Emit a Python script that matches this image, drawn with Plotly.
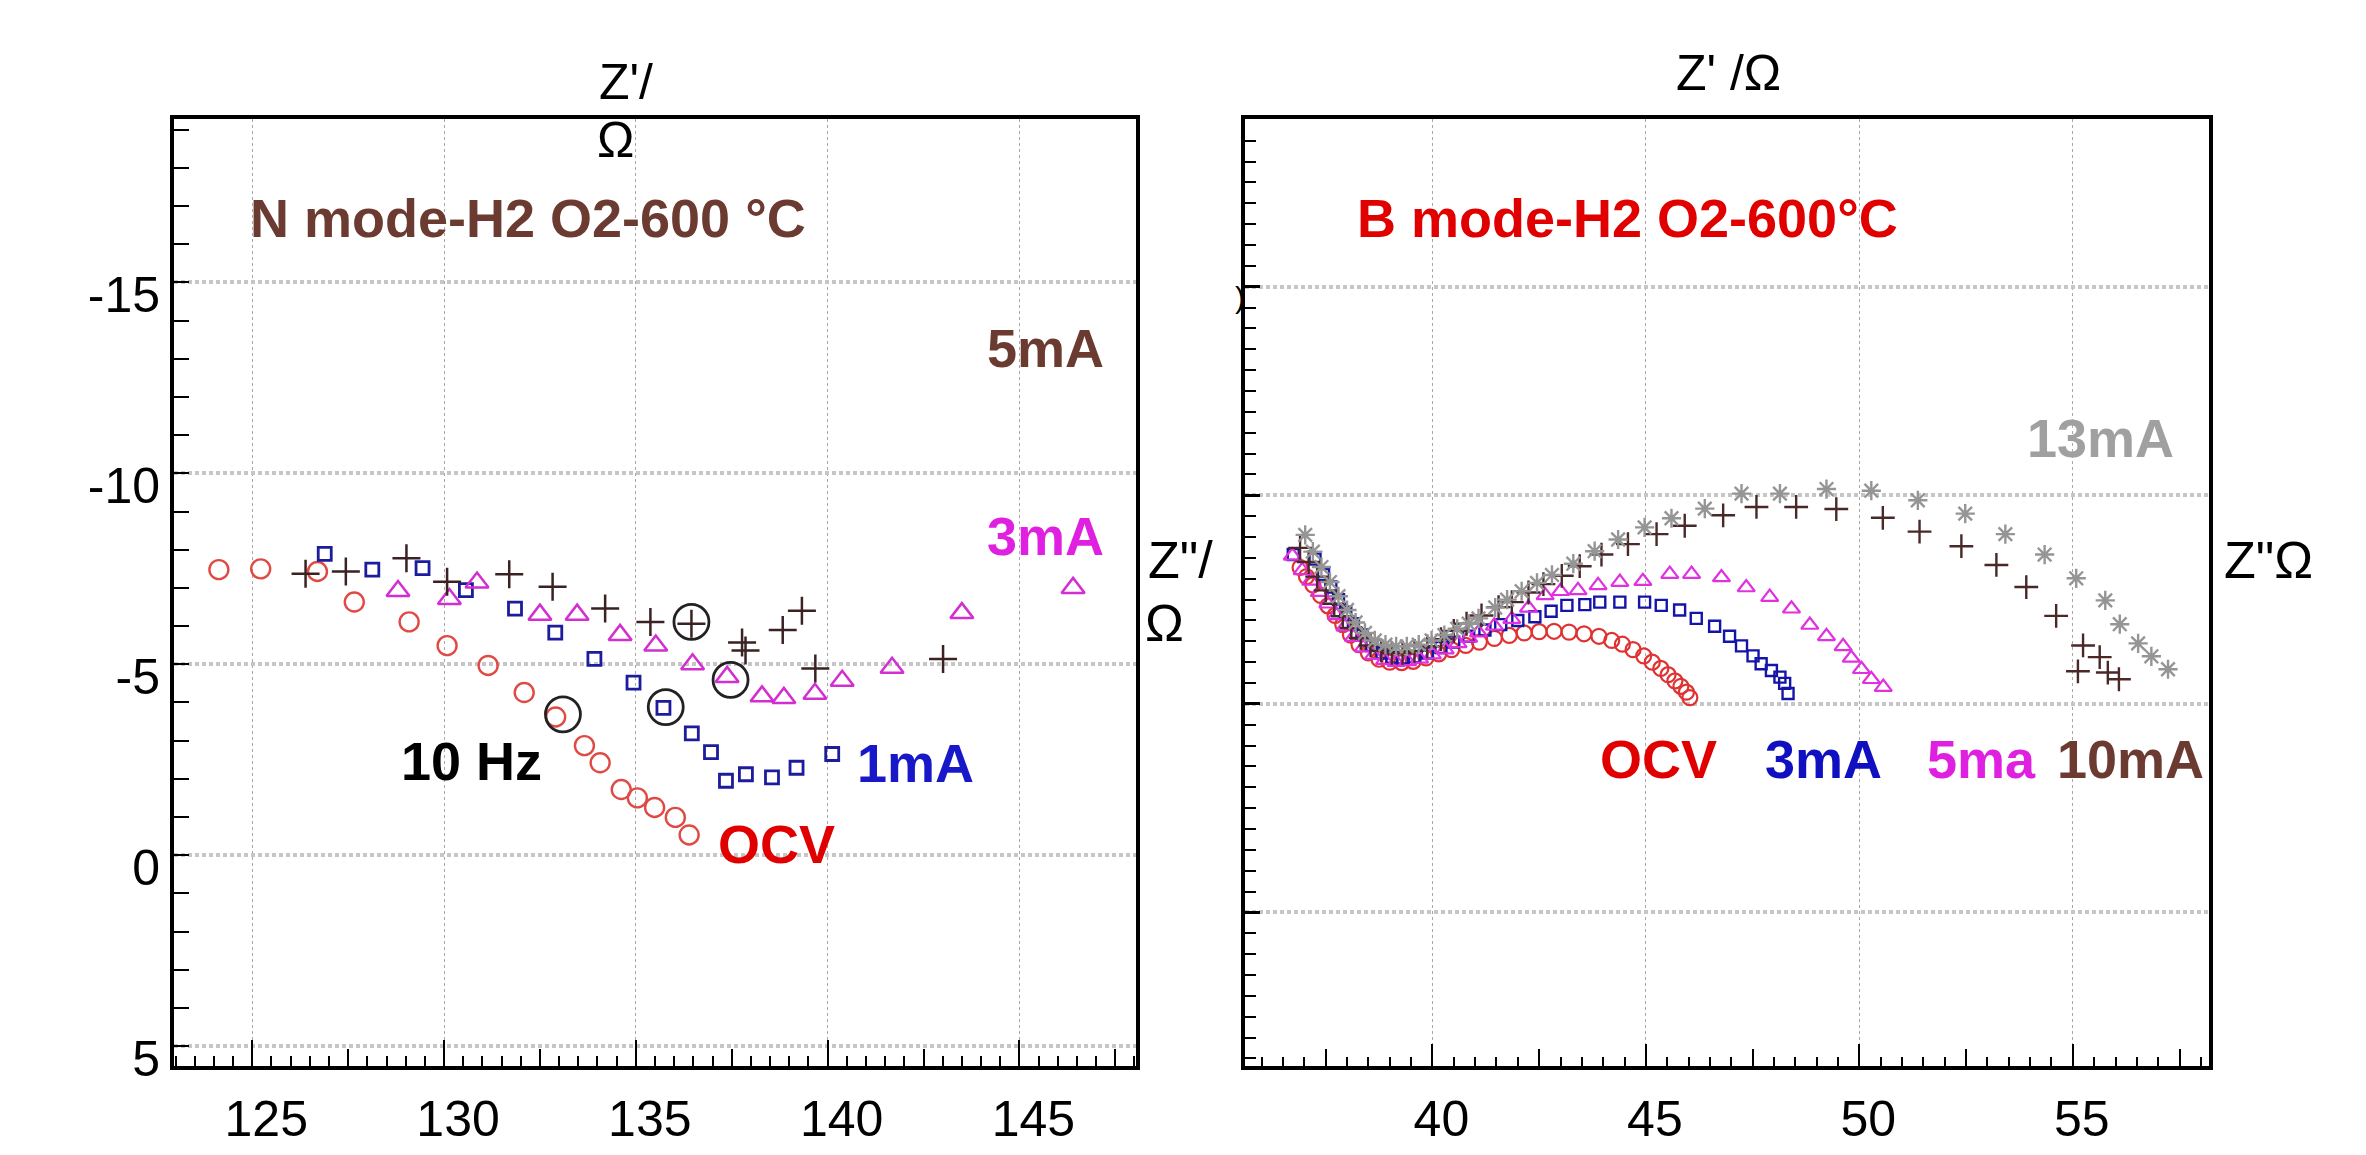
import plotly.graph_objects as go

W, H = 2366, 1155

# ---------------- Left panel: N mode-H2 O2-600 °C ----------------
n_ocv_x = [124.13, 125.22, 126.70, 127.66, 129.09, 130.08, 131.15, 132.09, 132.91, 133.66, 134.07, 134.62, 135.04, 135.49, 136.03, 136.39]
n_ocv_y = [-7.48, -7.50, -7.43, -6.63, -6.11, -5.49, -4.97, -4.26, -3.62, -2.87, -2.42, -1.72, -1.50, -1.25, -0.99, -0.53]

n_1ma_x = [126.89, 128.13, 129.44, 130.57, 131.85, 132.90, 133.92, 134.94, 135.72, 136.46, 136.96, 137.35, 137.87, 138.55, 139.19, 140.12]
n_1ma_y = [-7.89, -7.48, -7.52, -6.94, -6.46, -5.83, -5.14, -4.52, -3.86, -3.19, -2.70, -1.95, -2.12, -2.04, -2.29, -2.65]

n_3ma_x = [128.80, 130.14, 130.86, 132.50, 133.47, 134.59, 135.52, 136.48, 137.38, 138.29, 138.86, 139.67, 140.38, 141.68, 143.50, 146.40]
n_3ma_y = [-6.92, -6.71, -7.14, -6.30, -6.30, -5.77, -5.49, -5.00, -4.67, -4.16, -4.12, -4.23, -4.57, -4.91, -6.34, -7.00]

n_5ma_x = [126.39, 127.44, 129.02, 130.08, 131.70, 132.83, 134.20, 135.38, 136.45, 137.77, 137.86, 138.83, 139.33, 139.68, 143.01]
n_5ma_y = [-7.37, -7.43, -7.78, -7.16, -7.36, -7.03, -6.46, -6.11, -6.06, -5.57, -5.36, -5.90, -6.40, -4.89, -5.14]

hz10_x = [133.10, 135.78, 136.45, 137.47]
hz10_y = [-3.69, -3.88, -6.11, -4.59]

left_xticks = [125, 130, 135, 140, 145]
left_xtext = ["125", "130", "135", "140", "145"]
left_xmid = [122.5, 127.5, 132.5, 137.5, 142.5, 147.5]
left_yticks = [-15, -10, -5, 0, 5]
left_ytext = ["-15", "-10", "-5", "0", "5"]

# ---------------- Right panel: B mode-H2 O2-600°C ----------------
b_ocv_x = [36.90, 37.05, 37.20, 37.38, 37.55, 37.72, 37.90, 38.08, 38.28, 38.50, 38.75, 39.00, 39.28, 39.55, 39.85, 40.15, 40.45, 40.78, 41.10, 41.45, 41.80, 42.15, 42.50, 42.85, 43.20, 43.55, 43.90, 44.20, 44.45, 44.70, 44.95, 45.15, 45.35, 45.52, 45.68, 45.82, 45.95, 46.03]
b_ocv_y = [-8.27, -8.05, -7.85, -7.60, -7.35, -7.12, -6.90, -6.65, -6.42, -6.22, -6.07, -6.00, -5.99, -6.02, -6.10, -6.20, -6.30, -6.40, -6.48, -6.57, -6.64, -6.70, -6.73, -6.74, -6.72, -6.68, -6.62, -6.52, -6.43, -6.30, -6.15, -6.00, -5.85, -5.70, -5.55, -5.42, -5.28, -5.15]

b_3ma_x = [36.74, 37.25, 37.45, 37.62, 37.80, 37.97, 38.15, 38.35, 38.58, 38.82, 39.05, 39.30, 39.58, 39.88, 40.20, 40.50, 40.85, 41.23, 41.60, 42.00, 42.40, 42.78, 43.15, 43.57, 43.92, 44.39, 44.97, 45.36, 45.79, 46.18, 46.61, 46.96, 47.24, 47.51, 47.70, 47.94, 48.14, 48.25, 48.33]
b_3ma_y = [-8.58, -8.47, -8.10, -7.80, -7.50, -7.20, -6.92, -6.65, -6.40, -6.22, -6.12, -6.10, -6.13, -6.22, -6.35, -6.48, -6.62, -6.77, -6.90, -7.00, -7.09, -7.22, -7.36, -7.38, -7.44, -7.44, -7.44, -7.36, -7.25, -7.05, -6.86, -6.62, -6.39, -6.15, -5.96, -5.80, -5.64, -5.49, -5.25]

b_5ma_x = [36.72, 36.95, 37.15, 37.35, 37.55, 37.75, 37.95, 38.15, 38.38, 38.62, 38.88, 39.15, 39.42, 39.70, 40.00, 40.30, 40.60, 40.85, 41.08, 41.45, 41.86, 42.25, 42.64, 43.00, 43.41, 43.88, 44.39, 44.93, 45.56, 46.07, 46.77, 47.35, 47.90, 48.41, 48.84, 49.23, 49.62, 49.81, 50.05, 50.28, 50.56]
b_5ma_y = [-8.55, -8.20, -7.95, -7.68, -7.40, -7.12, -6.85, -6.60, -6.35, -6.17, -6.05, -6.00, -6.02, -6.08, -6.18, -6.30, -6.45, -6.58, -6.71, -6.87, -7.03, -7.30, -7.60, -7.70, -7.72, -7.84, -7.92, -7.94, -8.11, -8.11, -8.03, -7.79, -7.56, -7.28, -6.89, -6.62, -6.38, -6.10, -5.83, -5.59, -5.40]

b_10ma_x = [36.90, 37.10, 37.30, 37.50, 37.70, 37.90, 38.10, 38.32, 38.55, 38.80, 39.05, 39.30, 39.58, 39.88, 40.20, 40.50, 40.80, 41.15, 41.55, 41.86, 42.25, 42.60, 43.03, 43.45, 43.96, 44.58, 45.25, 45.91, 46.81, 47.59, 48.52, 49.46, 50.55, 51.41, 52.39, 53.21, 53.91, 54.61, 55.24, 55.63, 55.12, 55.82, 56.08]
b_10ma_y = [-8.74, -8.40, -8.05, -7.72, -7.40, -7.10, -6.82, -6.58, -6.40, -6.28, -6.22, -6.22, -6.27, -6.38, -6.55, -6.75, -6.92, -7.12, -7.32, -7.44, -7.67, -7.87, -8.07, -8.30, -8.58, -8.83, -9.07, -9.27, -9.52, -9.72, -9.72, -9.67, -9.46, -9.13, -8.78, -8.33, -7.80, -7.11, -6.40, -6.12, -5.78, -5.75, -5.59]

b_13ma_x = [37.02, 37.20, 37.40, 37.60, 37.80, 38.00, 38.20, 38.42, 38.65, 38.90, 39.15, 39.40, 39.68, 39.98, 40.28, 40.58, 40.85, 41.08, 41.47, 41.75, 42.09, 42.45, 42.80, 43.30, 43.80, 44.35, 44.97, 45.60, 46.38, 47.24, 48.14, 49.23, 50.28, 51.37, 52.48, 53.42, 54.34, 55.08, 55.76, 56.10, 56.53, 56.84, 57.23]
b_13ma_y = [-9.05, -8.65, -8.28, -7.92, -7.58, -7.25, -6.95, -6.70, -6.52, -6.42, -6.38, -6.38, -6.42, -6.52, -6.65, -6.80, -6.92, -7.05, -7.31, -7.50, -7.70, -7.90, -8.09, -8.36, -8.66, -8.94, -9.23, -9.45, -9.68, -10.04, -10.04, -10.15, -10.11, -9.88, -9.56, -9.07, -8.58, -8.01, -7.48, -6.91, -6.45, -6.14, -5.83]

right_xticks = [40, 45, 50, 55]
right_xtext = ["40", "45", "50", "55"]
right_xmid = [37.5, 42.5, 47.5, 52.5, 57.5]

FONT = "Liberation Sans, Arial, sans-serif"

fig = go.Figure()


def add(x, y, xa, ya, symbol, size, color, lw):
    fig.add_trace(go.Scatter(
        x=x, y=y, xaxis=xa, yaxis=ya, mode="markers",
        marker=dict(symbol=symbol, size=size, color=color, line=dict(color=color, width=lw)),
        showlegend=False, hoverinfo="skip"))


# left panel
add(n_ocv_x, n_ocv_y, "x", "y", "circle-open", 19, "#e04a44", 2.4)
add(n_1ma_x, n_1ma_y, "x", "y", "square-open", 13, "#1c1c9c", 2.8)
add(n_3ma_x, n_3ma_y, "x", "y", "triangle-up-open", 20, "#d22ed2", 2.5)
add(n_5ma_x, n_5ma_y, "x", "y", "cross-thin-open", 20, "#3a2222", 2.5)
add(hz10_x, hz10_y, "x", "y", "circle-open", 35, "#222222", 2.8)

# right panel
add(b_ocv_x, b_ocv_y, "x2", "y2", "circle-open", 15, "#e03232", 2.2)
add(b_3ma_x, b_3ma_y, "x2", "y2", "square-open", 11, "#1414a8", 2.4)
add(b_5ma_x, b_5ma_y, "x2", "y2", "triangle-up-open", 15, "#e030e0", 2.2)
add(b_10ma_x, b_10ma_y, "x2", "y2", "cross-thin-open", 17, "#4a2828", 2.4)
add(b_13ma_x, b_13ma_y, "x2", "y2", "asterisk-open", 16, "#959595", 2.4)

# empty carriers for the overlay axes that draw the medium (2.5-step) ticks
fig.add_trace(go.Scatter(x=[None], y=[None], xaxis="x3", yaxis="y", mode="markers",
                         showlegend=False, hoverinfo="skip"))
fig.add_trace(go.Scatter(x=[None], y=[None], xaxis="x4", yaxis="y2", mode="markers",
                         showlegend=False, hoverinfo="skip"))

ydom = [1 - 1077 / H, 1 - 113 / H]
ldom = [166 / W, 1128 / W]
rdom = [1237 / W, 2201 / W]
lrange = [122.96, 148.04]
rrange = [35.61, 58.19]

common_axis = dict(
    showline=True, linewidth=4, linecolor="black", mirror=True,
    zeroline=False, ticks="inside", tickcolor="black",
    tickfont=dict(family=FONT, size=50, color="black"),
)

mid_axis = dict(
    showline=False, showgrid=False, zeroline=False, ticks="inside",
    ticklen=17, tickwidth=2, tickcolor="black", showticklabels=False,
)

fig.update_layout(
    width=W, height=H, autosize=False,
    margin=dict(l=0, r=0, t=0, b=0),
    paper_bgcolor="white", plot_bgcolor="white",
    xaxis=dict(
        common_axis, domain=ldom, anchor="y",
        range=lrange, tickvals=left_xticks, ticktext=left_xtext,
        ticklen=26, tickwidth=2,
        showgrid=True, gridcolor="#a8a8a8", gridwidth=1.2, griddash="dot",
        minor=dict(dtick=0.5, tick0=125, ticks="inside", ticklen=10, tickwidth=1.5, tickcolor="black", showgrid=False),
        ticklabelshift=14, ticklabelstandoff=6,
    ),
    xaxis3=dict(mid_axis, overlaying="x", anchor="y", range=lrange, tickvals=left_xmid, side="bottom"),
    yaxis=dict(
        common_axis, domain=ydom, anchor="x",
        range=[5.53, -19.28], tickvals=left_yticks, ticktext=left_ytext,
        ticklen=15, tickwidth=2,
        showgrid=True, gridcolor="#c6c6c6", gridwidth=3.5, griddash="dot",
        minor=dict(dtick=1, tick0=0, ticks="inside", ticklen=15, tickwidth=2, tickcolor="black", showgrid=False),
        tickfont=dict(family=FONT, size=50, color="black"),
        ticklabelshift=-12, ticklabelstandoff=0,
    ),
    xaxis2=dict(
        common_axis, domain=rdom, anchor="y2",
        range=rrange, tickvals=right_xticks, ticktext=right_xtext,
        ticklen=22, tickwidth=2,
        showgrid=True, gridcolor="#a8a8a8", gridwidth=1.2, griddash="dot",
        minor=dict(dtick=0.5, tick0=40, ticks="inside", ticklen=9, tickwidth=1.5, tickcolor="black", showgrid=False),
        ticklabelshift=9, ticklabelstandoff=6,
    ),
    xaxis4=dict(mid_axis, overlaying="x2", anchor="y2", range=rrange, tickvals=right_xmid, side="bottom"),
    yaxis2=dict(
        common_axis, domain=ydom, anchor="x2",
        range=[3.69, -19.02], dtick=5, tick0=0, showticklabels=False,
        ticklen=15, tickwidth=2.5,
        showgrid=True, gridcolor="#c6c6c6", gridwidth=3.5, griddash="dot",
        minor=dict(dtick=0.5, tick0=0, ticks="inside", ticklen=11, tickwidth=2, tickcolor="black", showgrid=False),
    ),
)


def note(text, px, py, size, color="black", bold=False):
    fig.add_annotation(
        x=px / W, y=1 - py / H, xref="paper", yref="paper",
        text=f"<b>{text}</b>" if bold else text, showarrow=False,
        xanchor="center", yanchor="middle",
        font=dict(family=FONT, size=size, color=color))


# left panel texts
note("Z'/", 618, 75, 50)
note("Ω", 607, 134, 50)
note("N mode-H2 O2-600 °C", 520, 214, 54, "#6b3a30", True)
note("5mA", 1037, 346, 54, "#6b3a30", True)
note("3mA", 1037, 537, 54, "#e020e0", True)
note("10 Hz", 464, 766, 54, "black", True)
note("1mA", 907, 768, 54, "#1818c8", True)
note("OCV", 768, 851, 54, "#e00000", True)
note('Z"/', 1172, 562, 52)
note("Ω", 1156, 626, 52)

# right panel texts
note("Z' /Ω", 1720, 66, 50)
note(")", 1232, 295, 30)
note("B mode-H2 O2-600°C", 1619, 214, 54, "#e00000", True)
note("13mA", 2092, 438, 54, "#a0a0a0", True)
note('Z"Ω', 2260, 562, 52)
note("OCV", 1650, 764, 54, "#e00000", True)
note("3mA", 1815, 764, 54, "#1010c0", True)
note("5ma", 1973, 764, 54, "#e020e0", True)
note("10mA", 2122, 764, 54, "#6b3a30", True)

fig.write_html("out.html")
